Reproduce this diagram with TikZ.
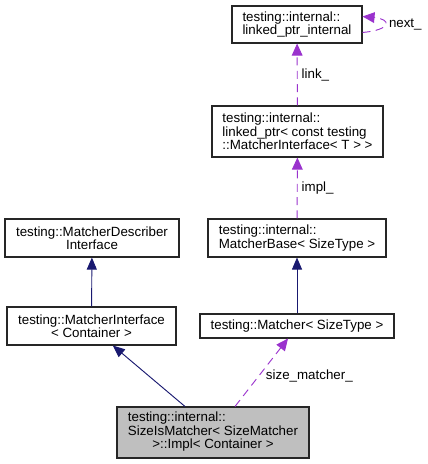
\documentclass[tikz,border=0pt]{standalone}
\usepackage{fontspec}
\setmainfont{Liberation Sans}
\usetikzlibrary{arrows.meta}
\definecolor{edgeblue}{HTML}{191970}
\definecolor{edgepurple}{HTML}{9A32CD}
\definecolor{focusgray}{HTML}{BFBFBF}

\begin{document}
\begin{tikzpicture}[x=0.75pt,y=-0.75pt,
  classbox/.style={draw=black!85,line width=0.8pt,fill=white,inner sep=0pt,
    align=left,font=\fontsize{10}{10}\selectfont},
  basearrow/.style={draw=edgeblue,line width=0.7pt,
    -{Triangle[length=9pt,width=7.5pt]}},
  memberarrow/.style={draw=edgepurple,line width=0.7pt,dash pattern=on 6pt off 4pt,
    -{Triangle[length=9pt,width=8pt]}},
  memberlabel/.style={font=\fontsize{10}{10}\selectfont,inner sep=3pt,anchor=west}]
  \useasboundingbox (0,0) rectangle (428,464);
  % the classes
  \node[classbox,minimum width=97.5pt,minimum height=27.75pt] (internal) at (297,24.5)
    {testing::internal::\\linked\_ptr\_internal};
  \node[classbox,minimum width=128.25pt,minimum height=38.25pt] (linkedptr) at (297.5,131.5)
    {testing::internal::\\linked\_ptr< const testing\\::MatcherInterface< T > >};
  \node[classbox,align=center,minimum width=130.5pt,minimum height=28.5pt] (describer) at (92,238)
    {testing::MatcherDescriber\\Interface};
  \node[classbox,minimum width=133.5pt,minimum height=28.5pt] (base) at (297,238)
    {testing::internal::\\MatcherBase< SizeType >};
  \node[classbox,align=center,minimum width=126.75pt,minimum height=28.5pt] (iface) at (91.5,326)
    {testing::MatcherInterface\\< Container >};
  \node[classbox,minimum width=145.5pt,minimum height=18pt] (matcher) at (297,326)
    {testing::Matcher< SizeType >};
  \node[classbox,fill=focusgray,minimum width=144pt,minimum height=38.25pt] (impl) at (213,432.5)
    {\begin{tabular}{@{}l@{}}testing::internal::\\SizeIsMatcher< SizeMatcher\\
     \multicolumn{1}{@{}c@{}}{>::Impl< Container >}\end{tabular}};
  % inheritance
  \draw[basearrow] (iface) -- (describer);
  \draw[basearrow] (matcher) -- (base);
  \draw[basearrow] ([xshift=-21pt]impl.north) -- ([xshift=16pt]iface.south);
  % members
  \draw[memberarrow] (linkedptr) -- node[memberlabel,pos=0.5]{link\_} (internal);
  \draw[memberarrow] (base) -- node[memberlabel,pos=0.5]{impl\_} (linkedptr);
  \draw[memberarrow] ([xshift=16.5pt]impl.north) -- node[memberlabel,pos=0.45,xshift=2pt]{size\_matcher\_}
    ([xshift=-6.75pt]matcher.south);
  \draw[memberarrow] ([yshift=-6pt]internal.east) .. controls +(22pt,2pt) and +(22pt,-2pt) ..
    node[memberlabel]{next\_} ([yshift=6pt]internal.east);
\end{tikzpicture}
\end{document}
